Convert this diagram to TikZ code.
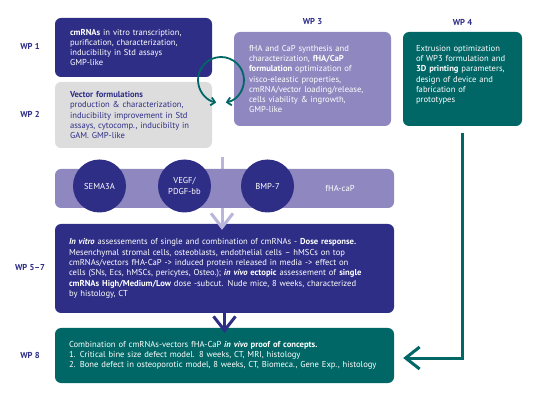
\documentclass[tikz,border=0pt]{standalone}
\usepackage{fontspec}
\setmainfont{PT Sans}
\usetikzlibrary{arrows.meta,positioning,calc}
\definecolor{WpNavy}{RGB}{46,46,135}
\definecolor{WpLilac}{RGB}{143,136,192}
\definecolor{WpPale}{RGB}{186,181,221}
\definecolor{WpGrey}{RGB}{221,221,221}
\definecolor{WpTeal}{RGB}{0,103,102}

\begin{document}
\begin{tikzpicture}[x=1pt,y=-1pt,
    wpbox/.style={rounded corners=6pt, inner xsep=15pt, inner ysep=0pt, align=left, text=white, font=\fontsize{8.6}{10.3}\selectfont},
    wplabel/.style={text=WpNavy, font=\fontsize{8.6}{10}\selectfont\bfseries},
    factor/.style={circle, fill=WpNavy, minimum size=53pt, inner sep=0pt, align=center, text=white, font=\fontsize{8.6}{10.3}\selectfont},
    flow/.style={line width=3pt, -{Straight Barb[length=14pt,width=22pt]}}]
  \useasboundingbox (0,0) rectangle (552,414);
  \node[wpbox, fill=WpNavy, minimum width=157pt, minimum height=59pt, text width=127pt] (wp1) at (133.5,47.5) {\textbf{cmRNAs} in vitro transcription,\\ purification, characterization,\\ inducibility in Std assays\\ GMP-like};
  \node[wpbox, fill=WpGrey, text=WpNavy, minimum width=157pt, minimum height=66pt, text width=127pt] (wp2) at (133.5,115) {\textbf{Vector formulations}\\ production \& characterization,\\ inducibility improvement in Std\\ assays, cytocomp., inducibilty in\\ GAM. GMP-like};
  \node[wpbox, fill=WpLilac, minimum width=157pt, minimum height=94pt, text width=127pt] (wp3) at (312.5,79) {fHA and CaP synthesis and\\ characterization, \textbf{fHA/CaP}\\ \textbf{formulation} optimization of\\ visco-eleastic properties,\\ cmRNA/vector loading/release,\\ cells viability \& ingrowth,\\ GMP-like};
  \node[wpbox, fill=WpTeal, inner xsep=13pt, minimum width=119pt, minimum height=94pt, text width=93pt] (wp4) at (462.5,79) {Extrusion optimization\\ of WP3 formulation and\\ \textbf{3D printing} parameters,\\ design of device and\\ fabrication of\\ prototypes\\ \mbox{}};
  \node[wpbox, fill=WpNavy, inner xsep=14pt, minimum width=339pt, minimum height=89pt, text width=311pt] (wp57) at (224.5,268.5) {\textbf{\textit{In vitro}} assessements of single and combination of cmRNAs - \textbf{Dose response.}\\ Mesenchymal stromal cells, osteoblasts, endothelial cells -- hMSCs on top\\ cmRNAs/vectors fHA-CaP -> induced protein released in media -> effect on\\ cells (SNs, Ecs, hMSCs, pericytes, Osteo.); \textbf{\textit{in vivo} ectopic} assessement of \textbf{single}\\ \textbf{cmRNAs High/Medium/Low} dose -subcut. Nude mice, 8 weeks, characterized\\ by histology, CT};
  \node[wpbox, fill=WpTeal, inner xsep=14pt, minimum width=339pt, minimum height=55pt, text width=311pt] (wp8) at (224.5,355.5) {Combination of cmRNAs-vectors fHA-CaP \textbf{\textit{in vivo} proof of concepts.}\\ 1. Critical bine size defect model. 8 weeks, CT, MRI, histology\\ 2. Bone defect in osteoporotic model, 8 weeks, CT, Biomeca., Gene Exp., histology};

  \node[wplabel] (l1) at (30,46) {WP 1};
  \node[wplabel] (l2) at (30,114) {WP 2};
  \node[wplabel] (l3) at (312.5,22) {WP 3};
  \node[wplabel] (l4) at (462.5,22) {WP 4};
  \node[wplabel] (l57) at (30,268) {WP 5--7};
  \node[wplabel] (l8) at (30,355) {WP 8};

  \coordinate (feed) at (222,157);
  \draw[flow, WpPale] (feed) -- ($(feed |- wp57.north)+(0,6)$);
  \node[wpbox, fill=WpLilac, minimum width=339pt, minimum height=39pt] (band) at (224.5,188.5) {};
  \node[factor] (sema) at (99.5,186) {SEMA3A};
  \node[factor] (vegf) at (184.5,186) {VEGF/\\PDGF-bb};
  \node[factor] (bmp) at (267.5,186) {BMP-7};
  \node[wpbox, inner xsep=0pt] (fha) at (340,188) {fHA-caP};

  \draw[flow, WpNavy] (wp57.south) -- ($(wp8.north)+(0,5)$);
  \draw[flow, WpTeal] ($(wp4.south)+(0,7)$) |- ($(wp8.east)+(9,2.5)$);

  \coordinate (loop) at (221,80);
  \draw[WpTeal, line width=1.8pt, {Straight Barb[length=4pt,width=8pt]}-{Straight Barb[length=4pt,width=8pt]}] ($(loop)+(-78:23pt)$) arc[start angle=-78, end angle=258, radius=23pt];
\end{tikzpicture}
\end{document}
